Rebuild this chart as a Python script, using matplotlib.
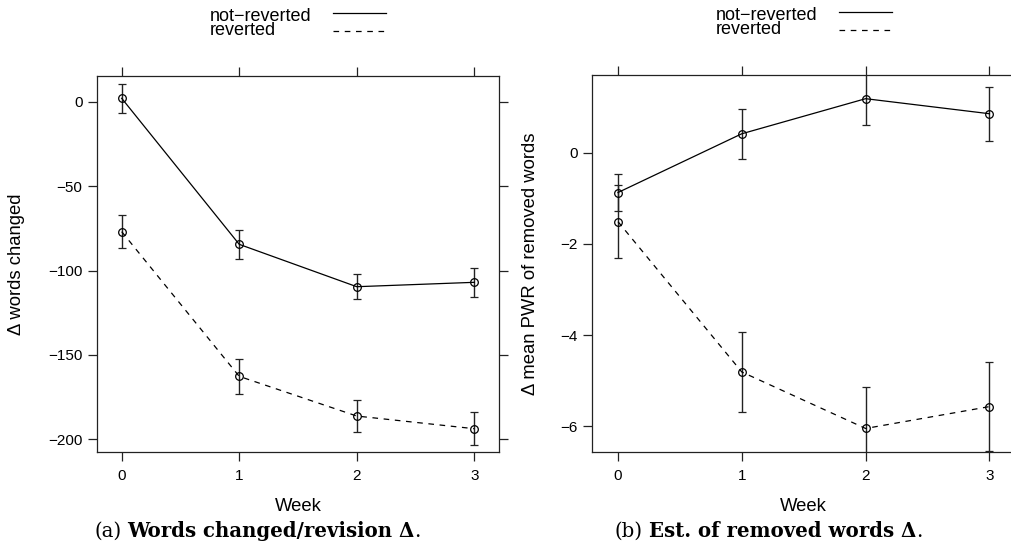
import numpy as np
import matplotlib
matplotlib.use("Agg")
import matplotlib.pyplot as plt
from matplotlib.lines import Line2D

plt.rcParams['font.family'] = ['Liberation Sans', 'DejaVu Sans']

#######################
#   DATA
#######################

weeks = [0, 1, 2, 3]
series_names = ["not\u2212reverted", "reverted"]

# words changed per revision, delta vs. baseline
words_nr = [2.0, -84.5, -109.6, -107.0]
words_nr_err = [8.7, 8.5, 7.5, 8.6]
words_rev = [-77.0, -162.7, -186.2, -193.7]
words_rev_err = [9.8, 10.2, 9.7, 9.7]

# mean PWR of removed words, delta vs. baseline
pwr_nr = [-0.87, 0.42, 1.19, 0.86]
pwr_nr_err = [0.40, 0.55, 0.58, 0.59]
pwr_rev = [-1.51, -4.81, -6.05, -5.57]
pwr_rev_err = [0.80, 0.88, 0.91, 0.97]

y_labels = ["\u0394 words changed", "\u0394 mean PWR of removed words"]
y_ticks = [[0, -50, -100, -150, -200], [0, -2, -4, -6]]
y_limits = [(-207.5, 15.2), (-6.56, 1.71)]
captions = [("(a)", "Words changed/revision \u0394"),
            ("(b)", "Est. of removed words \u0394")]

DASH = (0, (4.5, 4.5))


#######################
#   PLOTTING
#######################

W, H = 1012, 552
fig = plt.figure(figsize=(W / 100, H / 100), dpi=100)
ax1 = fig.add_axes([97 / W, 100 / H, 402 / W, 376 / H])
ax2 = fig.add_axes([592 / W, 100.3 / H, 423.4 / W, 376.7 / H])


def draw_panel(ax, nr, nr_err, rev, rev_err, ylabel, yticks, ylim, label_x, key_x):
    for vals, errs, ls in [(nr, nr_err, '-'), (rev, rev_err, DASH)]:
        ax.errorbar(weeks, vals, yerr=errs, color='black', ls=ls, lw=0.9,
                    marker='o', ms=5.5, mfc='none', mec='black', mew=0.9,
                    ecolor='#222222', elinewidth=1.0, capsize=3.2, capthick=1.0)
    ax.set_xlim(-0.21, 3.21)
    ax.set_ylim(*ylim)
    ax.set_xticks(weeks)
    ax.set_yticks(yticks)
    ax.tick_params(direction='out', length=6.5, width=0.9, top=True, right=True,
                   labeltop=False, labelright=False, labelsize=11, color='#222222')
    ax.tick_params(axis='x', pad=6)
    ax.tick_params(axis='y', pad=4)
    for s in ax.spines.values():
        s.set_linewidth(0.9)
        s.set_color('#222222')
    ax.set_xlabel("Week", fontsize=13.3)
    ax.set_ylabel(ylabel, fontsize=13.3)
    ax.xaxis.set_label_coords(0.5, -0.122)
    ax.yaxis.set_label_coords(label_x, 0.5)

    # key: labels on the left, line samples to the right
    txt_x, line_x = key_x
    blank = [Line2D([], [], lw=0), Line2D([], [], lw=0)]
    key_text = ax.legend(blank, series_names, loc='lower left',
                         bbox_to_anchor=(txt_x, 1.099), frameon=False, fontsize=13,
                         handlelength=0, handletextpad=0, labelspacing=-0.2,
                         borderpad=0, borderaxespad=0)
    ax.add_artist(key_text)
    samples = [Line2D([], [], color='black', lw=0.9),
               Line2D([], [], color='black', lw=0.9, ls=DASH)]
    ax.legend(samples, ["", ""], loc='lower left', bbox_to_anchor=(line_x, 1.091),
              frameon=False, fontsize=13, handlelength=2.93, handletextpad=0,
              labelspacing=0.065, borderpad=0, borderaxespad=0)


draw_panel(ax1, words_nr, words_nr_err, words_rev, words_rev_err,
           y_labels[0], y_ticks[0], y_limits[0], -0.179, (0.281, 0.587))
draw_panel(ax2, pwr_nr, pwr_nr_err, pwr_rev, pwr_rev_err,
           y_labels[1], y_ticks[1], y_limits[1], -0.125, (0.293, 0.583))

# sub-figure captions: regular tag, bold title, regular full stop
for (tag, title), x0 in zip(captions, [94, 615]):
    t1 = fig.text(x0 / W, (H - 537) / H, tag, ha='left', va='baseline',
                  fontsize=14.2, family='DejaVu Serif')
    t2 = plt.annotate(title, xy=(1, 0), xycoords=t1, xytext=(4, 0),
                      textcoords='offset points', va='bottom', ha='left',
                      fontsize=14.2, family='DejaVu Serif', weight='bold')
    plt.annotate(".", xy=(1, 0), xycoords=t2, va='bottom', ha='left',
                 fontsize=14.2, family='DejaVu Serif')

fig.savefig("out.png", dpi=100)
